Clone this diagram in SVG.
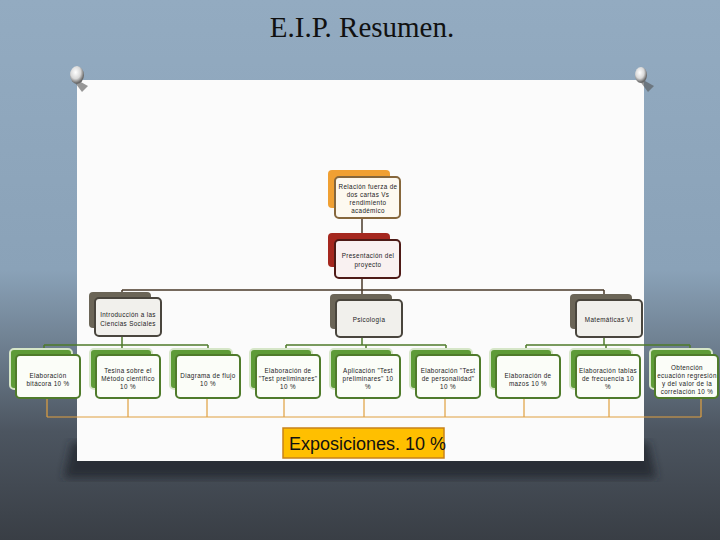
<svg xmlns="http://www.w3.org/2000/svg" width="720" height="540" viewBox="0 0 720 540">
<defs>
<linearGradient id="bg" x1="0" y1="0" x2="0" y2="1">
<stop offset="0" stop-color="#93abc1"/>
<stop offset="0.5" stop-color="#8aa2b8"/>
<stop offset="0.66" stop-color="#6a7a8a"/>
<stop offset="0.8" stop-color="#4c5560"/>
<stop offset="1" stop-color="#393e45"/>
</linearGradient>
<radialGradient id="pin" cx="0.4" cy="0.35" r="0.6">
<stop offset="0" stop-color="#ffffff"/>
<stop offset="0.6" stop-color="#d8d8d8"/>
<stop offset="1" stop-color="#6a6a6a"/>
</radialGradient>
<filter id="blur"><feGaussianBlur stdDeviation="4"/></filter>
</defs>
<style>
.t{font-family:"Liberation Sans",Arial,sans-serif;font-size:6.3px;fill:#222;text-anchor:middle;letter-spacing:0.35px}
.f1{fill:#fdf9f0;stroke:#86673c;stroke-width:2}
.b1{fill:#f0a033}
.f2{fill:#f9f1f1;stroke:#4e1a16;stroke-width:2}
.b2{fill:#a5281f}
.f3{fill:#f1f0ec;stroke:#49453d;stroke-width:2}
.b3{fill:#6b6557}
.f4{fill:#fbfdf8;stroke:#4f7b2b;stroke-width:2}
.b4{fill:#5e9b37;stroke:#d6e6c8;stroke-width:2}
.c{fill:none;stroke:#4a3a2a;stroke-width:1.5}
.cg{fill:none;stroke:#4f7b2b;stroke-width:1.5}
.co{fill:none;stroke:#e0a040;stroke-width:1.2}
</style>
<rect width="720" height="540" fill="url(#bg)"/>
<text x="362" y="37" font-family="Liberation Serif,Times New Roman,serif" font-size="29" text-anchor="middle" fill="#111">E.I.P. Resumen.</text>
<polygon points="72,442 648,442 656,478 64,478" fill="#24282d" opacity="0.8" filter="url(#blur)"/>
<rect x="77" y="80" width="567" height="381" fill="#fbfbfb"/>
<g id="pins">
<path d="M70,76 L82,92 L88,86 Z" fill="#555" opacity="0.6"/>
<ellipse cx="77" cy="75" rx="7" ry="9" fill="url(#pin)"/>
<path d="M636,76 L648,92 L654,86 Z" fill="#555" opacity="0.6"/>
<ellipse cx="641" cy="75" rx="6" ry="8" fill="url(#pin)"/>
</g>
<g id="connectors">
<path class="c" d="M362,218 V240"/>
<path class="c" d="M362,278 V290 M122,290 H604 M122,290 V298 M362,290 V300 M604,290 V300"/>
<path class="cg" d="M122,336 V345 M44,345 H208 M44,345 V355 M122,345 V355 M208,345 V355"/>
<path class="cg" d="M362,337 V345 M286,345 H446 M286,345 V355 M366,345 V355 M446,345 V355"/>
<path class="cg" d="M604,337 V345 M526,345 H690 M526,345 V355 M606,345 V355 M690,345 V355"/>
<path class="co" d="M47,398 V417 M128,398 V417 M207,398 V417 M284,398 V417 M364,398 V417 M445,398 V417 M524,398 V417 M609,398 V417 M701,398 V417 M47,417 H701"/>
</g>
<g id="n1"><rect class="b1" x="328" y="170" width="62" height="38" rx="4"/><rect class="f1" x="335" y="177" width="65" height="41" rx="4"/>
<text class="t" x="368" y="189">Relación fuerza de</text><text class="t" x="368" y="197">dos cartas Vs</text><text class="t" x="368" y="205">rendimiento</text><text class="t" x="368" y="213">académico</text></g>
<g id="n2"><rect class="b2" x="328" y="233" width="62" height="34" rx="4"/><rect class="f2" x="335" y="240" width="65" height="38" rx="4"/>
<text class="t" x="368" y="258">Presentación del</text><text class="t" x="368" y="267">proyecto</text></g>
<g id="n3a"><rect class="b3" x="89" y="292" width="62" height="36" rx="4"/><rect class="f3" x="95" y="298" width="66" height="38" rx="4"/>
<text class="t" x="128" y="317">Introducción a las</text><text class="t" x="128" y="326">Ciencias Sociales</text></g>
<g id="n3b"><rect class="b3" x="330" y="294" width="62" height="35" rx="4"/><rect class="f3" x="336" y="300" width="66" height="37" rx="4"/>
<text class="t" x="369" y="322">Psicología</text></g>
<g id="n3c"><rect class="b3" x="570" y="294" width="62" height="35" rx="4"/><rect class="f3" x="576" y="300" width="66" height="37" rx="4"/>
<text class="t" x="609" y="322">Matemáticas VI</text></g>
<g id="n4a"><rect class="b4" x="10" y="349" width="62" height="40" rx="4"/><rect class="f4" x="16" y="355" width="64" height="43" rx="4"/>
<text class="t" x="48" y="378">Elaboración</text><text class="t" x="48" y="386">bitácora 10 %</text></g>
<g id="n4b"><rect class="b4" x="90" y="349" width="62" height="40" rx="4"/><rect class="f4" x="96" y="355" width="64" height="43" rx="4"/>
<text class="t" x="128" y="373">Tesina sobre el</text><text class="t" x="128" y="381">Método científico</text><text class="t" x="128" y="389">10 %</text></g>
<g id="n4c"><rect class="b4" x="170" y="349" width="62" height="40" rx="4"/><rect class="f4" x="176" y="355" width="64" height="43" rx="4"/>
<text class="t" x="208" y="378">Diagrama de flujo</text><text class="t" x="208" y="386">10 %</text></g>
<g id="n4d"><rect class="b4" x="250" y="349" width="62" height="40" rx="4"/><rect class="f4" x="256" y="355" width="64" height="43" rx="4"/>
<text class="t" x="288" y="373">Elaboración de</text><text class="t" x="288" y="381">"Test preliminares"</text><text class="t" x="288" y="389">10 %</text></g>
<g id="n4e"><rect class="b4" x="330" y="349" width="62" height="40" rx="4"/><rect class="f4" x="336" y="355" width="64" height="43" rx="4"/>
<text class="t" x="368" y="373">Aplicación "Test</text><text class="t" x="368" y="381">preliminares"  10</text><text class="t" x="368" y="389">%</text></g>
<g id="n4f"><rect class="b4" x="410" y="349" width="62" height="40" rx="4"/><rect class="f4" x="416" y="355" width="64" height="43" rx="4"/>
<text class="t" x="448" y="373">Elaboración "Test</text><text class="t" x="448" y="381">de personalidad"</text><text class="t" x="448" y="389">10 %</text></g>
<g id="n4g"><rect class="b4" x="490" y="349" width="62" height="40" rx="4"/><rect class="f4" x="496" y="355" width="64" height="43" rx="4"/>
<text class="t" x="528" y="378">Elaboración de</text><text class="t" x="528" y="386">mazos  10 %</text></g>
<g id="n4h"><rect class="b4" x="570" y="349" width="62" height="40" rx="4"/><rect class="f4" x="576" y="355" width="64" height="43" rx="4"/>
<text class="t" x="608" y="373">Elaboración tablas</text><text class="t" x="608" y="381">de frecuencia  10</text><text class="t" x="608" y="389">%</text></g>
<g id="n4i"><rect class="b4" x="650" y="349" width="62" height="40" rx="4"/><rect class="f4" x="655" y="355" width="63" height="43" rx="4"/>
<text class="t" x="687" y="370">Obtención</text><text class="t" x="687" y="378">ecuación regresión</text><text class="t" x="687" y="386">y del valor de la</text><text class="t" x="687" y="394">correlación  10 %</text></g>
<g id="exp"><rect x="283" y="428" width="161" height="30" fill="#ffbf00" stroke="#c8821a" stroke-width="1.5"/>
<text x="289" y="450" font-family="Liberation Sans,Arial,sans-serif" font-size="18" fill="#111">Exposiciones. 10 %</text></g>
</svg>
